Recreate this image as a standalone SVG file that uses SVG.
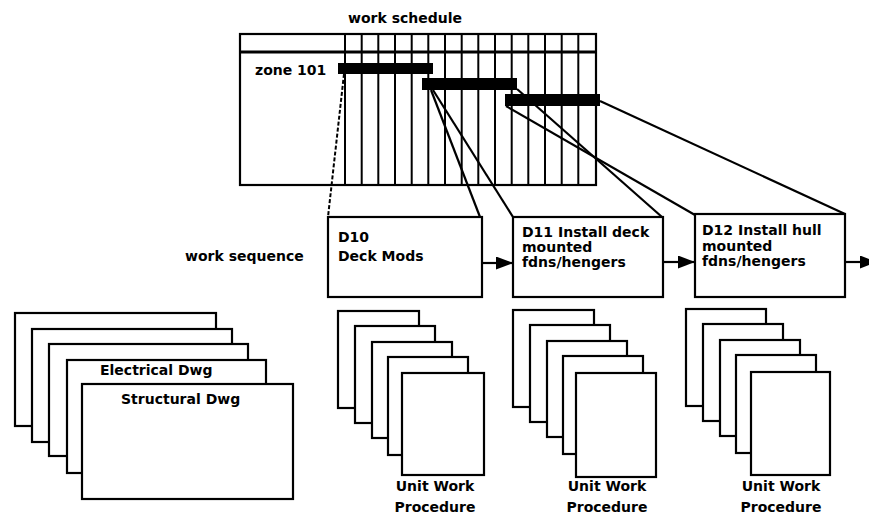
<svg xmlns="http://www.w3.org/2000/svg" width="869" height="516" viewBox="0 0 869 516">
<style>
  .t { font-family: "DejaVu Sans", "Liberation Sans", sans-serif; font-weight: bold; font-size: 14px; fill: #000; }
  .c { text-anchor: middle; }
  .box { fill: #fff; stroke: #000; stroke-width: 2.2; }
  .grid { stroke: #000; stroke-width: 2; }
  .bar { fill: #000; }
  .ln { stroke: #000; stroke-width: 2.2; fill: none; }
  .dash { stroke: #000; stroke-width: 2; stroke-dasharray: 4 2; fill: none; }
</style>
<defs>
  <marker id="ah" markerUnits="userSpaceOnUse" markerWidth="18" markerHeight="14" refX="17" refY="6.5" orient="auto">
    <path d="M0,0 L17,6.5 L0,13 z" fill="#000"/>
  </marker>
</defs>
<rect width="869" height="516" fill="#fff"/>

<g id="schedule">
  <text class="t c" x="405" y="23">work schedule</text>
  <rect class="box" x="240" y="34" width="356" height="151"/>
  <line x1="240" y1="52" x2="596" y2="52" stroke="#000" stroke-width="3.2"/>
  <g class="grid">
    <line x1="345" y1="34" x2="345" y2="185"/>
    <line x1="361.7" y1="34" x2="361.7" y2="185"/>
    <line x1="378.3" y1="34" x2="378.3" y2="185"/>
    <line x1="395" y1="34" x2="395" y2="185"/>
    <line x1="411.7" y1="34" x2="411.7" y2="185"/>
    <line x1="428.3" y1="34" x2="428.3" y2="185"/>
    <line x1="445" y1="34" x2="445" y2="185"/>
    <line x1="461.7" y1="34" x2="461.7" y2="185"/>
    <line x1="478.3" y1="34" x2="478.3" y2="185"/>
    <line x1="495" y1="34" x2="495" y2="185"/>
    <line x1="511.7" y1="34" x2="511.7" y2="185"/>
    <line x1="528.3" y1="34" x2="528.3" y2="185"/>
    <line x1="545" y1="34" x2="545" y2="185"/>
    <line x1="561.7" y1="34" x2="561.7" y2="185"/>
    <line x1="578.3" y1="34" x2="578.3" y2="185"/>
  </g>
  <text class="t" x="255" y="75">zone 101</text>
  <rect class="bar" x="338" y="63" width="95" height="11"/>
  <rect class="bar" x="422" y="78" width="95" height="12"/>
  <rect class="bar" x="505" y="94" width="95" height="12"/>
</g>

<g id="connectors">
  <line class="dash" x1="344" y1="74" x2="328" y2="217"/>
  <line class="ln" x1="431" y1="90" x2="480" y2="217"/>
  <line class="ln" x1="433" y1="90" x2="513" y2="217"/>
  <line class="ln" x1="517" y1="89" x2="662" y2="217"/>
  <line class="ln" x1="506" y1="106" x2="695" y2="215"/>
  <line class="ln" x1="600" y1="101" x2="845" y2="214"/>
  <line class="ln" x1="482" y1="263" x2="513" y2="263" marker-end="url(#ah)"/>
  <line class="ln" x1="663" y1="262" x2="695" y2="262" marker-end="url(#ah)"/>
  <line class="ln" x1="845" y1="262" x2="877" y2="262" marker-end="url(#ah)"/>
</g>

<g id="work-sequence-label">
  <text class="t" x="185" y="261">work sequence</text>
</g>

<g id="D10">
  <rect class="box" x="328" y="217" width="154" height="80"/>
  <text class="t" x="338" y="242">D10</text>
  <text class="t" x="338" y="261">Deck Mods</text>
</g>

<g id="D11">
  <rect class="box" x="513" y="217" width="150" height="80"/>
  <text class="t" x="522" y="237">D11 Install deck</text>
  <text class="t" x="522" y="252">mounted</text>
  <text class="t" x="522" y="267">fdns/hengers</text>
</g>

<g id="D12">
  <rect class="box" x="695" y="214" width="150" height="83"/>
  <text class="t" x="702" y="235">D12 Install hull</text>
  <text class="t" x="702" y="251">mounted</text>
  <text class="t" x="702" y="266">fdns/hengers</text>
</g>

<g id="drawings">
  <rect class="box" x="15" y="313" width="201" height="113"/>
  <rect class="box" x="32" y="329" width="200" height="113"/>
  <rect class="box" x="49" y="344" width="199" height="112"/>
  <rect class="box" x="67" y="360" width="199" height="113"/>
  <text class="t" x="100" y="375">Electrical Dwg</text>
  <rect class="box" x="82" y="384" width="211" height="115"/>
  <text class="t" x="121" y="404">Structural Dwg</text>
</g>

<g id="procedures-D10">
  <rect class="box" x="338" y="311" width="81" height="97"/>
  <rect class="box" x="355" y="326" width="80" height="97"/>
  <rect class="box" x="372" y="342" width="80" height="96"/>
  <rect class="box" x="388" y="357" width="80" height="98"/>
  <rect class="box" x="402" y="373" width="82" height="102"/>
  <text class="t c" x="435" y="491">Unit Work</text>
  <text class="t c" x="435" y="512">Procedure</text>
</g>

<g id="procedures-D11">
  <rect class="box" x="513" y="310" width="81" height="97"/>
  <rect class="box" x="530" y="325" width="80" height="97"/>
  <rect class="box" x="547" y="341" width="80" height="96"/>
  <rect class="box" x="563" y="356" width="80" height="98"/>
  <rect class="box" x="576" y="373" width="80" height="104"/>
  <text class="t c" x="607" y="491">Unit Work</text>
  <text class="t c" x="607" y="512">Procedure</text>
</g>

<g id="procedures-D12">
  <rect class="box" x="686" y="309" width="80" height="97"/>
  <rect class="box" x="703" y="324" width="80" height="97"/>
  <rect class="box" x="720" y="340" width="80" height="96"/>
  <rect class="box" x="736" y="355" width="80" height="98"/>
  <rect class="box" x="751" y="372" width="79" height="103"/>
  <text class="t c" x="781" y="491">Unit Work</text>
  <text class="t c" x="781" y="512">Procedure</text>
</g>
</svg>
